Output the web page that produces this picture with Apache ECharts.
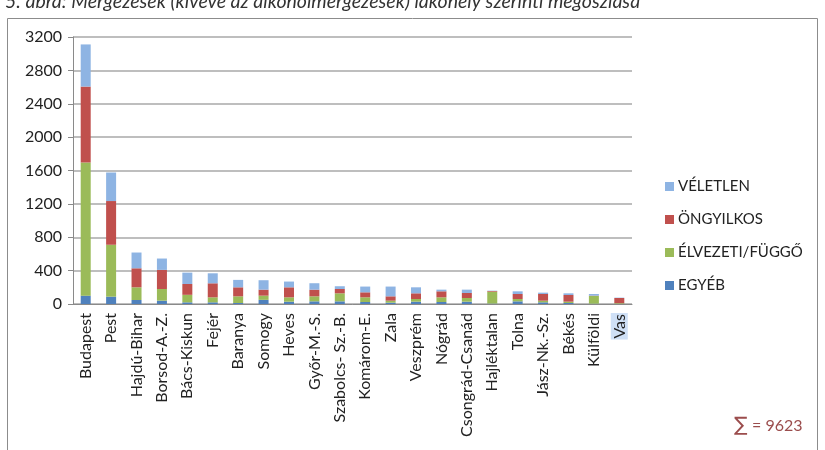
<!DOCTYPE html>
<html>
<head>
<meta charset="utf-8">
<script src="https://cdn.jsdelivr.net/npm/echarts@6/dist/echarts.min.js"></script>
<style>
html,body{margin:0;padding:0;background:#fff;}
#chart{width:825px;height:450px;}
</style>
</head>
<body>
<div id="chart"></div>
<script>
const categories = ['Budapest','Pest','Hajdú-Bihar','Borsod-A.-Z.','Bács-Kiskun','Fejér','Baranya','Somogy','Heves','Győr-M.-S.','Szabolcs- Sz.-B.','Komárom-E.','Zala','Veszprém','Nógrád','Csongrád-Csanád','Hajléktalan','Tolna','Jász-Nk.-Sz.','Békés','Külföldi','Vas'];
const egyeb     = [100, 88, 48, 40, 20, 20, 12, 50, 28, 32, 32, 24, 16, 28, 24, 28, 5, 32, 20, 12, 4, 2];
const elvezeti  = [1596, 622, 152, 140, 90, 60, 80, 50, 52, 60, 96, 56, 24, 32, 56, 44, 143, 28, 20, 16, 92, 8];
const ongyilkos = [910, 524, 228, 229, 130, 168, 108, 72, 120, 80, 52, 60, 52, 68, 72, 60, 8, 60, 80, 80, 4, 62];
const veletlen  = [505, 342, 189, 136, 136, 120, 89, 113, 69, 77, 33, 69, 117, 72, 20, 40, 4, 32, 16, 20, 20, 4];
const seriesNames = ['EGYÉB','ÉLVEZETI/FÜGGŐ','ÖNGYILKOS','VÉLETLEN'];
const yTicks = [0, 400, 800, 1200, 1600, 2000, 2400, 2800, 3200];
const titleText = '5. ábra: Mérgezések (kivéve az alkoholmérgezések) lakóhely szerinti megoszlása';
const totalText = '= 9623';

const colors = ['#4f81bd','#9bbb59','#c0504d','#8eb4e3'];
const FONT = 'Lato';
const chart = echarts.init(document.getElementById('chart'));
const dataSets = [egyeb, elvezeti, ongyilkos, veletlen];

chart.setOption({
  animation: false,
  textStyle: {fontFamily: FONT},
  grid: {left: 73, right: 193, top: 37, bottom: 146},
  legend: {
    orient: 'vertical',
    left: 660, top: 174,
    itemWidth: 9, itemHeight: 9, itemGap: 18,
    icon: 'rect',
    data: seriesNames.slice().reverse(),
    textStyle: {fontFamily: FONT, fontSize: 15, color: '#222', padding: [0,0,0,-1]}
  },
  xAxis: {
    type: 'category',
    data: categories,
    axisLine: {lineStyle: {color: '#8a8a8a'}},
    axisTick: {length: 5, lineStyle: {color: '#8a8a8a'}},
    axisLabel: {
      rotate: 90, interval: 0, margin: 9,
      fontFamily: FONT, fontSize: 16, color: '#222',
      formatter: function(v){ return v === 'Vas' ? '{hl|' + v + '}' : v; },
      rich: {hl: {backgroundColor: '#cfe0f6', fontFamily: FONT, fontSize: 16, color: '#222', padding: [1,1,0,1]}}
    }
  },
  yAxis: {
    type: 'value',
    min: yTicks[0], max: yTicks[yTicks.length-1], interval: 400,
    axisLine: {show: true, lineStyle: {color: '#8a8a8a'}},
    axisTick: {show: true, length: 5, lineStyle: {color: '#8a8a8a'}},
    axisLabel: {margin: 11, fontFamily: FONT, fontSize: 16, color: '#222', formatter: v => String(v)},
    splitLine: {lineStyle: {color: '#a8a8a8', width: 1.5}}
  },
  series: seriesNames.map((n, i) => ({
    name: n, type: 'bar', stack: 'all', barWidth: 10,
    itemStyle: {color: colors[i]},
    data: dataSets[i]
  })),
  graphic: [
    {type: 'rect', shape: {x: 7.5, y: 18.5, width: 810, height: 460}, style: {fill: 'none', stroke: '#8c8c8c', lineWidth: 1}, z: -1},
    {type: 'text', left: 5, top: -8, style: {text: titleText, font: 'italic 19.5px ' + FONT, fill: '#333'}},
    {type: 'text', left: 734, top: 416, style: {text: '\u2211', font: '20px "DejaVu Sans"', fill: '#9b4d4d'}},
    {type: 'text', left: 752, top: 418, style: {text: totalText, font: '16px ' + FONT, fill: '#9b4d4d'}}
  ]
});
</script>
</body>
</html>
